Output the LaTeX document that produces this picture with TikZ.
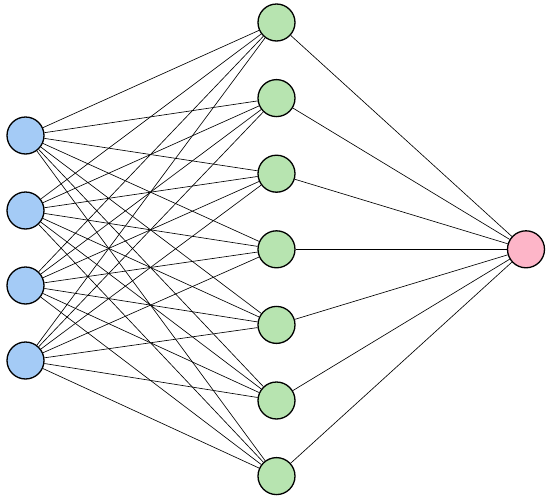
\documentclass[tikz,border=0pt]{standalone}
\usepackage{xcolor}
\usepackage{tikz}
\usetikzlibrary{arrows.meta,positioning}
\definecolor{inBlue}{HTML}{A4CBF6}
\definecolor{hidGreen}{HTML}{B7E4B0}
\definecolor{outPink}{HTML}{FDB5C8}

\begin{document}
\begin{tikzpicture}[x=1pt,y=-1pt,
  neuron/.style={circle,draw,line width=1.3pt,minimum size=37pt,inner sep=0pt},
  link/.style={line width=0.65pt}]
  \useasboundingbox (0,0) rectangle (550,501);
% --- input layer ---
  \node[neuron,fill=inBlue] (i1) at (25.5,135.5) {};
  \node[neuron,fill=inBlue] (i2) at (25.5,210.5) {};
  \node[neuron,fill=inBlue] (i3) at (25.5,285.5) {};
  \node[neuron,fill=inBlue] (i4) at (25.5,360.5) {};
% --- hidden layer ---
  \node[neuron,fill=hidGreen] (h1) at (276.5,22.5) {};
  \node[neuron,fill=hidGreen] (h2) at (276.5,98.1) {};
  \node[neuron,fill=hidGreen] (h3) at (276.5,173.7) {};
  \node[neuron,fill=hidGreen] (h4) at (276.5,249.3) {};
  \node[neuron,fill=hidGreen] (h5) at (276.5,324.9) {};
  \node[neuron,fill=hidGreen] (h6) at (276.5,400.5) {};
  \node[neuron,fill=hidGreen] (h7) at (276.5,476.1) {};
% --- output layer ---
  \node[neuron,fill=outPink] (o1) at (526.0,249.3) {};
% --- connections ---
  \foreach \i in {1,...,4}
    \foreach \h in {1,...,7}
      \draw[link] (i\i)--(h\h);
  \foreach \h in {1,...,7}
    \draw[link] (h\h)--(o1);
\end{tikzpicture}
\end{document}
